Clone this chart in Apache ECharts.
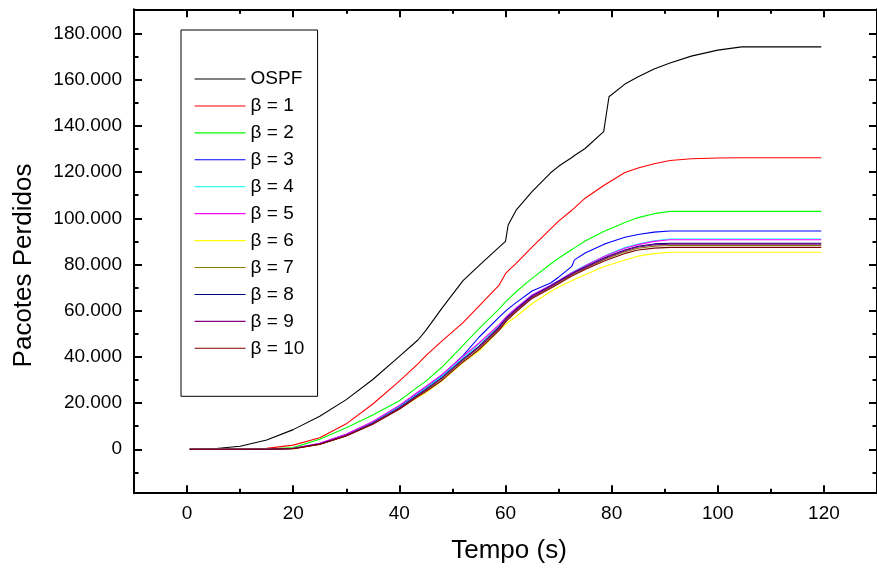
<!DOCTYPE html>
<html>
<head>
<meta charset="utf-8">
<script src="https://cdn.jsdelivr.net/npm/echarts@6/dist/echarts.min.js"></script>
<style>
html,body{margin:0;padding:0;background:#fff;}
#chart{width:877px;height:569px;}
</style>
</head>
<body>
<div id="chart"></div>
<script>
// Tempo (s)
var tempo = [0.5, 5, 10, 15, 20, 25, 30, 35, 40, 43.5, 45, 48, 52, 55, 58.8, 60, 60.5, 62, 65, 68.5, 70, 72.5, 73, 75, 78.5, 79.5, 82.5, 85, 88, 91, 95, 100, 104.5, 110, 119.5];

// Pacotes perdidos per series
var ospf = [0, 200, 1300, 4000, 8500, 14300, 21500, 30200, 40200, 47300, 51500, 61000, 73000, 79500, 87500, 90000, 97100, 103500, 111500, 119700, 122500, 126300, 127200, 130200, 137500, 152600, 158100, 161300, 164600, 167200, 170200, 172800, 174200, 174200, 174200];
var beta1 = [0, 0, 100, 400, 1800, 5000, 11000, 19600, 29500, 37000, 40500, 46800, 54800, 62000, 71100, 76000, 77200, 80500, 87500, 95400, 98800, 103500, 104500, 108700, 114200, 115600, 119800, 121800, 123600, 125000, 125800, 126100, 126200, 126200, 126200];
var beta2 = [0, 0, 0, 100, 700, 4300, 9300, 14800, 21000, 27000, 29500, 35500, 45000, 52200, 60800, 63800, 64900, 68200, 74000, 80200, 82700, 86500, 87200, 90200, 94300, 95300, 98200, 100300, 102000, 103000, 103000, 103000, 103000, 103000, 103000];
var beta3 = [0, 0, 0, 0, 300, 2500, 6500, 11800, 18800, 24500, 27000, 32000, 40500, 48500, 57200, 59800, 60800, 63500, 68500, 72000, 74500, 79200, 82000, 85000, 88700, 89500, 91800, 93000, 94000, 94500, 94500, 94500, 94500, 94500, 94500];
var beta4 = [0, 0, 0, 0, 300, 2400, 6200, 11600, 18400, 24000, 26500, 31500, 39500, 45500, 53500, 56800, 58000, 61000, 66800, 71000, 73000, 76500, 77200, 79600, 83500, 84500, 87300, 88900, 90300, 91000, 91000, 91000, 91000, 91000, 91000];
var beta5 = [0, 0, 0, 0, 400, 2600, 6500, 12000, 19000, 24800, 27200, 32300, 40200, 46000, 54000, 57000, 58200, 61200, 66800, 71000, 73000, 76400, 77000, 79400, 83300, 84300, 87000, 88600, 90000, 90700, 90700, 90700, 90700, 90700, 90700];
var beta6 = [0, 0, 0, 0, 200, 2200, 5800, 11000, 17500, 22500, 24500, 29500, 37500, 42500, 51500, 54000, 55000, 57500, 63000, 68300, 70200, 73000, 73600, 75600, 79000, 79800, 81900, 83600, 84700, 85300, 85300, 85300, 85300, 85300, 85300];
var beta7 = [0, 0, 0, 0, 200, 2200, 5900, 11100, 17700, 23200, 25500, 30500, 38500, 44000, 52000, 55500, 56700, 60000, 65800, 70200, 72200, 75500, 76100, 78300, 82000, 82900, 85500, 87000, 87900, 88200, 88200, 88200, 88200, 88200, 88200];
var beta8 = [0, 0, 0, 0, 300, 2300, 6000, 11300, 18000, 23600, 26000, 31000, 39000, 44500, 53000, 56300, 57500, 60600, 66300, 70700, 72700, 76000, 76600, 78900, 82700, 83700, 86300, 87900, 88900, 89200, 89200, 89200, 89200, 89200, 89200];
var beta9 = [0, 0, 0, 0, 300, 2300, 6000, 11200, 17900, 23400, 25800, 30800, 38800, 44200, 52500, 56000, 57200, 60300, 66000, 70500, 72500, 75800, 76400, 78600, 82400, 83400, 86000, 87600, 88500, 88800, 88800, 88800, 88800, 88800, 88800];
var beta10 = [0, 0, 0, 0, 200, 2100, 5700, 10800, 17300, 22800, 25000, 29800, 37800, 43200, 51500, 55000, 56300, 59500, 65300, 69700, 71700, 75000, 75600, 77800, 81400, 82300, 84800, 86300, 87100, 87400, 87400, 87400, 87400, 87400, 87400];

var seriesNames = ['OSPF', 'β = 1', 'β = 2', 'β = 3', 'β = 4', 'β = 5', 'β = 6', 'β = 7', 'β = 8', 'β = 9', 'β = 10'];
var seriesValues = [ospf, beta1, beta2, beta3, beta4, beta5, beta6, beta7, beta8, beta9, beta10];
var seriesColors = ['#000000', '#FF0000', '#00FF00', '#0000FF', '#00FFFF', '#FF00FF', '#FFFF00', '#808000', '#000080', '#800080', '#800000'];

// Axis ticks
var xMajorTicks = [0, 20, 40, 60, 80, 100, 120];
var xMinorTicks = [10, 30, 50, 70, 90, 110];
var yMajorTicks = [0, 20000, 40000, 60000, 80000, 100000, 120000, 140000, 160000, 180000];
var yMinorTicks = [-10000, 10000, 30000, 50000, 70000, 90000, 110000, 130000, 150000, 170000];

var FONT = 'Liberation Sans, Arial, Helvetica, sans-serif';
var X_MIN = -10, X_MAX = 130, Y_MIN = -19000, Y_MAX = 190500;
var gridBox = {left: 134, top: 9.25, width: 748.65, height: 483.9};

function xAx(gridIndex, pos, ticks, len, showLine, labels) {
  return {
    type: 'value', gridIndex: gridIndex, position: pos, min: X_MIN, max: X_MAX,
    splitLine: {show: false},
    axisLine: {show: showLine, onZero: false, lineStyle: {color: '#000', width: 2}},
    axisTick: {show: true, inside: true, length: len, customValues: ticks, lineStyle: {color: '#000', width: 2}},
    axisLabel: labels ? {show: true, customValues: ticks, color: '#000', fontSize: 19, fontFamily: FONT, margin: 11} : {show: false}
  };
}
function yAx(gridIndex, pos, ticks, len, showLine, labels) {
  return {
    type: 'value', gridIndex: gridIndex, position: pos, min: Y_MIN, max: Y_MAX,
    splitLine: {show: false},
    axisLine: {show: showLine, onZero: false, lineStyle: {color: '#000', width: 2}},
    axisTick: {show: true, inside: true, length: len, customValues: ticks, lineStyle: {color: '#000', width: 2}},
    axisLabel: labels ? {show: true, customValues: ticks, color: '#000', fontSize: 19, fontFamily: FONT, margin: 12,
      formatter: function (v) { return v === 0 ? '0' : (v / 1000) + '.000'; }} : {show: false}
  };
}

var series = seriesNames.map(function (name, i) {
  return {
    name: name, type: 'line', xAxisIndex: 0, yAxisIndex: 0,
    data: tempo.map(function (t, j) { return [t, seriesValues[i][j]]; }),
    symbol: 'none', showSymbol: false, smooth: false,
    lineStyle: {color: seriesColors[i], width: 1.1},
    itemStyle: {color: seriesColors[i]},
    emphasis: {disabled: true},
    animation: false
  };
});

var chart = echarts.init(document.getElementById('chart'), null, {renderer: 'canvas'});
chart.setOption({
  backgroundColor: '#fff',
  animation: false,
  grid: [
    Object.assign({}, gridBox),
    Object.assign({}, gridBox)
  ],
  xAxis: [
    xAx(0, 'bottom', xMajorTicks, 8, true, true),
    xAx(0, 'top', xMajorTicks, 8, true, false),
    xAx(1, 'bottom', xMinorTicks, 4.5, false, false),
    xAx(1, 'top', xMinorTicks, 4.5, false, false)
  ],
  yAxis: [
    yAx(0, 'left', yMajorTicks, 8, true, true),
    yAx(0, 'right', yMajorTicks, 8, true, false),
    yAx(1, 'left', yMinorTicks, 4.5, false, false),
    yAx(1, 'right', yMinorTicks, 4.5, false, false)
  ],
  legend: {
    show: true, orient: 'vertical', left: 181, top: 30,
    padding: [39.5, 13.3, 38.5, 13],
    itemWidth: 51, itemHeight: 17, itemGap: 7.93,
    borderColor: '#000', borderWidth: 1,
    itemStyle: {opacity: 0},
    lineStyle: {width: 1.1},
    textStyle: {color: '#000', fontSize: 19, fontFamily: FONT},
    data: seriesNames,
    selectedMode: false
  },
  graphic: [
    {type: 'text', x: 509, y: 551, style: {text: 'Tempo (s)', font: '26px ' + FONT, fill: '#000', textAlign: 'center', textVerticalAlign: 'middle'}},
    {type: 'text', x: 24, y: 265.5, rotation: Math.PI / 2, style: {text: 'Pacotes Perdidos', font: '26px ' + FONT, fill: '#000', textAlign: 'center', textVerticalAlign: 'middle'}}
  ],
  series: series
});
</script>
</body>
</html>
